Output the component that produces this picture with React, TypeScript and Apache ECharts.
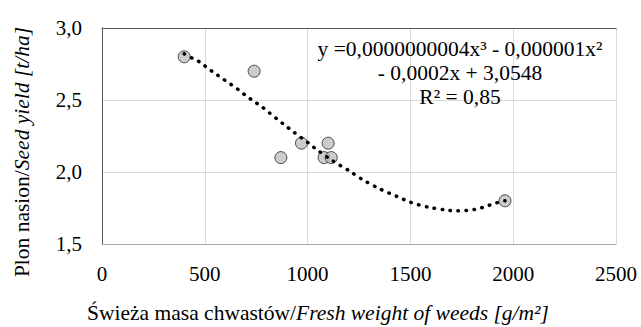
import React, { useEffect, useRef } from "react";
import * as echarts from "echarts";

const weedMass = [400, 740, 870, 970, 1080, 1100, 1115, 1960];
const seedYield = [2.8, 2.7, 2.1, 2.2, 2.1, 2.2, 2.1, 1.8];

const trendX = [400, 440, 480, 515, 555, 590, 625, 665, 700, 740, 780, 815, 850, 885, 930, 1005, 1040, 1120, 1200, 1270, 1355, 1435, 1500, 1590, 1680, 1725, 1815, 1865, 1905, 1960];
const trendY = [2.82, 2.79, 2.76, 2.72, 2.68, 2.645, 2.61, 2.57, 2.53, 2.49, 2.45, 2.41, 2.37, 2.33, 2.28, 2.2, 2.16, 2.08, 2.01, 1.945, 1.88, 1.83, 1.79, 1.755, 1.735, 1.73, 1.74, 1.76, 1.78, 1.8];

const equationLines = ["y =0,0000000004x³ - 0,000001x²", "- 0,0002x + 3,0548", "R² = 0,85"];

const FONT = "Liberation Serif";

export default function App() {
  const ref = useRef<HTMLDivElement>(null);
  useEffect(() => {
    document.body.style.margin = "0";
    if (!ref.current) return;
    const chart = echarts.init(ref.current, null, { renderer: "svg" });
    const fmtY = (v: number) => v.toFixed(1).replace(".", ",");
    const fmtX = (v: number) => String(Math.round(v));
    chart.setOption({
      animation: false,
      backgroundColor: "#ffffff",
      textStyle: { fontFamily: FONT },
      grid: { left: 102, right: 25, top: 28, bottom: 83, containLabel: false },
      xAxis: [
        {
          type: "value",
          position: "bottom",
          min: 0,
          max: 2500,
          interval: 500,
          axisLine: { show: true, lineStyle: { color: "#a6a6a6", width: 1 } },
          axisTick: { show: false },
          axisLabel: { color: "#000", fontSize: 21, fontFamily: FONT, margin: 19, formatter: fmtX },
          splitLine: { show: true, lineStyle: { color: "#d9d9d9", width: 1 } },
        },
        {
          type: "value",
          position: "top",
          min: 0,
          max: 2500,
          interval: 500,
          axisLine: { show: true, lineStyle: { color: "#595959", width: 1 } },
          axisTick: { show: false },
          axisLabel: { show: false },
          splitLine: { show: false },
        },
      ],
      yAxis: [
        {
          type: "value",
          position: "left",
          min: 1.5,
          max: 3,
          interval: 0.5,
          axisLine: { show: true, lineStyle: { color: "#bfbfbf", width: 1 } },
          axisTick: { show: false },
          axisLabel: { color: "#000", fontSize: 21, fontFamily: FONT, margin: 20, formatter: fmtY },
          splitLine: { show: true, lineStyle: { color: "#d9d9d9", width: 1 } },
        },
        {
          type: "value",
          position: "right",
          min: 1.5,
          max: 3,
          interval: 0.5,
          axisLine: { show: true, lineStyle: { color: "#595959", width: 1 } },
          axisTick: { show: false },
          axisLabel: { show: false },
          splitLine: { show: false },
        },
      ],
      series: [
        {
          type: "scatter",
          data: weedMass.map((x, i) => [x, seedYield[i]]),
          symbol: "circle",
          symbolSize: 12,
          itemStyle: { color: "#bfbfbf", borderColor: "#262626", borderWidth: 1 },
          z: 2,
        },
        {
          type: "line",
          data: trendX.map((x, i) => [x, trendY[i]]),
          showSymbol: false,
          symbol: "none",
          smooth: 0.3,
          lineStyle: { color: "#000", width: 3.5, type: [0.5, 7.5], cap: "round" },
          z: 3,
        },
      ],
      graphic: [
        {
          type: "text",
          x: 460,
          y: 37,
          style: {
            text: equationLines.join("\n"),
            fontFamily: FONT,
            fontSize: 21.5,
            fill: "#000",
            textAlign: "center",
            textVerticalAlign: "top",
            lineHeight: 24,
          },
          z: 10,
        },
        {
          type: "text",
          x: 318,
          y: 313,
          style: {
            text: "{n|Świeża masa chwastów/}{i|Fresh weight of weeds [g/m²]}",
            textAlign: "center",
            textVerticalAlign: "middle",
            fill: "#000",
            rich: {
              n: { fontFamily: FONT, fontSize: 21.5, fill: "#000" },
              i: { fontFamily: FONT, fontSize: 21.5, fontStyle: "italic", fill: "#000" },
            },
          },
        },
        {
          type: "text",
          x: 22,
          y: 152,
          rotation: Math.PI / 2,
          style: {
            text: "{n|Plon nasion/}{i|Seed yield [t/ha]}",
            textAlign: "center",
            textVerticalAlign: "middle",
            fill: "#000",
            rich: {
              n: { fontFamily: FONT, fontSize: 21.5, fill: "#000" },
              i: { fontFamily: FONT, fontSize: 21.5, fontStyle: "italic", fill: "#000" },
            },
          },
        },
      ],
    });
    return () => chart.dispose();
  }, []);
  return <div ref={ref} style={{ width: 641, height: 327 }} />;
}
